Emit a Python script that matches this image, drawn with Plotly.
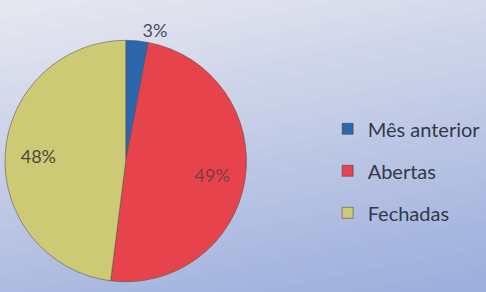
import plotly.graph_objects as go

categories = ["Mês anterior", "Abertas", "Fechadas"]
values = [3, 49, 48]
colors = ["#2c67ae", "#e6434c", "#cdca76"]
text_colors = ["#4a4c5c", "#7e3a42", "#4a4a3a"]

W, H = 486, 292
FONT = "Lato, Open Sans, sans-serif"

fig = go.Figure()

dom = dict(x=[0, 244 / W], y=[0 / H, 1 - 38 / H])

# main pie (only the small slice label, placed outside)
fig.add_trace(go.Pie(
    labels=categories,
    values=values,
    sort=False,
    direction="clockwise",
    rotation=0,
    marker=dict(colors=colors, line=dict(color="rgba(90,80,80,0.55)", width=1)),
    texttemplate=["%{percent}", "", ""],
    textposition=["outside", "none", "none"],
    textfont=dict(family=FONT, size=18, color=text_colors[0]),
    domain=dom,
    showlegend=False,
    hoverinfo="label+percent",
))

# transparent ring overlay carrying the large-slice labels further out
fig.add_trace(go.Pie(
    labels=categories,
    values=values,
    sort=False,
    direction="clockwise",
    rotation=0,
    hole=0.45,
    marker=dict(colors=["rgba(0,0,0,0)"] * 3, line=dict(width=0)),
    texttemplate=["", "%{percent}", "%{percent}"],
    textposition="inside",
    insidetextorientation="horizontal",
    textfont=dict(family=FONT, size=18, color=text_colors),
    domain=dom,
    showlegend=False,
    hoverinfo="skip",
))

# legend entries (one group each, for spacing)
for name, c in zip(categories, colors):
    fig.add_trace(go.Scatter(
        x=[None], y=[None], mode="markers", name=name,
        marker=dict(symbol="square", size=11, color=c,
                    line=dict(color="rgba(60,60,60,0.5)", width=1)),
        legendgroup=name, showlegend=True,
    ))

# gradient background (diagonal, light top-left to blue bottom-right)
def lerp(a, b, t):
    return int(round(a + (b - a) * t))

c0 = (0xe8, 0xe8, 0xf0)
c1 = (0x9c, 0xae, 0xdc)
ax_, ay_ = 0.25, 0.75
shapes = []
N = 40
for k in range(N):
    t0 = k / N
    t = (k + 0.5) / N
    col = "rgb(%d,%d,%d)" % tuple(lerp(c0[j], c1[j], t) for j in range(3))

    def yline(x):
        return 1 - (t0 - ax_ * x) / ay_
    p1 = (-1.0, yline(-1.0))
    p2 = (2.0, yline(2.0))
    d = (ax_ * 10, -ay_ * 10)
    pts = [p1, p2, (p2[0] + d[0], p2[1] + d[1]), (p1[0] + d[0], p1[1] + d[1])]
    path = "M " + " L ".join("%.4f,%.4f" % p for p in pts) + " Z"
    shapes.append(dict(type="path", xref="paper", yref="paper", path=path,
                       fillcolor=col, line=dict(width=0), layer="below"))

fig.update_layout(
    width=W, height=H,
    margin=dict(l=0, r=0, t=0, b=0),
    paper_bgcolor="#e8e8f0",
    plot_bgcolor="rgba(0,0,0,0)",
    shapes=shapes,
    xaxis=dict(visible=False),
    yaxis=dict(visible=False),
    legend=dict(
        x=326 / W, y=1 - 112 / H, xanchor="left", yanchor="top",
        font=dict(family=FONT, size=20, color="#333949"),
        bgcolor="rgba(0,0,0,0)",
        tracegroupgap=13,
        itemwidth=30,
    ),
    showlegend=True,
)

fig.write_html(
    "out.html",
    config={"displayModeBar": False},
    post_script="document.body.style.margin='0';document.body.style.overflow='hidden';",
)
